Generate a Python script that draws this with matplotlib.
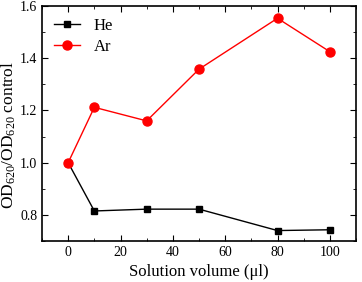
import matplotlib
matplotlib.use('Agg')
import matplotlib.pyplot as plt
from matplotlib.ticker import MultipleLocator

plt.rcParams['font.family'] = 'Liberation Serif'
plt.rcParams['mathtext.fontset'] = 'custom'
plt.rcParams['mathtext.rm'] = 'Liberation Serif'
plt.rcParams['mathtext.it'] = 'Liberation Serif:italic'

volume = [0, 10, 30, 50, 80, 100]
he = [1.0, 0.815, 0.822, 0.822, 0.740, 0.743]
ar = [1.0, 1.212, 1.160, 1.358, 1.553, 1.425]

fig = plt.figure(figsize=(3.62, 2.82), dpi=100)
ax = fig.add_axes([42 / 362, 1 - 241 / 282, 314 / 362, 235 / 282])

ax.plot(volume, he, color='black', marker='s', markersize=5, lw=1.0, label='He')
ax.plot(volume, ar, color='red', marker='o', markersize=6.5, lw=1.0, label='Ar')

ax.set_xlim(-10, 110)
ax.set_ylim(0.7, 1.6)
ax.xaxis.set_major_locator(MultipleLocator(20))
ax.xaxis.set_minor_locator(MultipleLocator(10))
ax.yaxis.set_major_locator(MultipleLocator(0.2))
ax.yaxis.set_minor_locator(MultipleLocator(0.1))
ax.tick_params(which='both', direction='in', top=True, right=True, labelsize=10)
ax.tick_params(which='major', length=4)
ax.tick_params(which='minor', length=2.5)
for s in ax.spines.values():
    s.set_linewidth(1.2)

ax.set_xlabel('Solution volume (μl)', fontsize=12)
ax.set_ylabel('OD$_{620}$/OD$_{620}$ control', fontsize=12.5)
ax.yaxis.set_label_coords(-0.078, 0.45)
ax.legend(loc='upper left', frameon=False, fontsize=12, handlelength=1.6,
          borderaxespad=0.3, labelspacing=0.3)

fig.savefig('out.png', dpi=100)
